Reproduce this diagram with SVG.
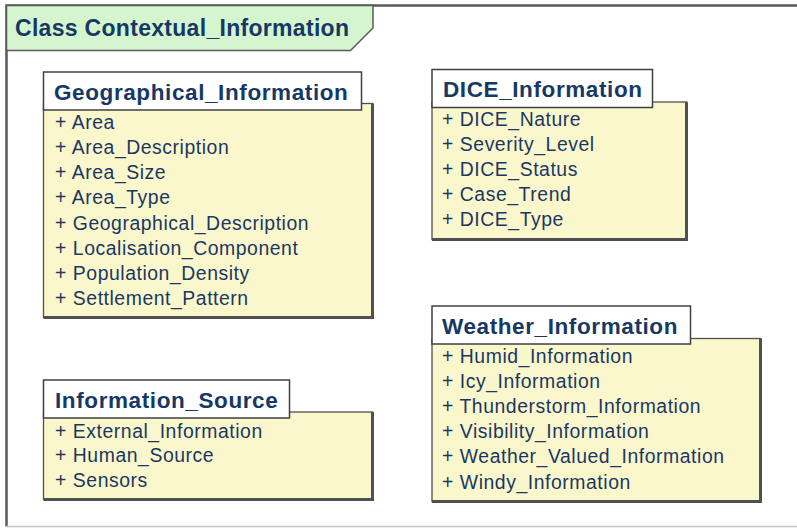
<svg xmlns="http://www.w3.org/2000/svg" width="797" height="528" viewBox="0 0 797 528">
  <style>
    .frame { fill: none; stroke: #5a5a5a; stroke-width: 2.5; }
    .frame-bottom { fill: none; stroke: #c4c4c4; stroke-width: 1.5; }
    .tab { fill: #d5f5cf; stroke: #5a5a5a; stroke-width: 1.5; }
    .title { font-family: "Liberation Sans", Arial, sans-serif; font-weight: bold; font-size: 23px; fill: #163865; letter-spacing: 0.3px; }
    .body { fill: #fbf7cc; stroke: #505050; stroke-width: 1.3; }
    .shadow { fill: none; stroke: #505050; stroke-width: 3; }
    .head { fill: #ffffff; stroke: #404040; stroke-width: 1.5; }
    .cname { font-family: "Liberation Sans", Arial, sans-serif; font-weight: bold; font-size: 22.5px; fill: #163865; letter-spacing: 0.6px; }
    .attr { font-family: "Liberation Sans", Arial, sans-serif; font-size: 19.4px; fill: #1a3762; letter-spacing: 0.55px; }
  </style>

  <!-- package frame -->
  <g id="frame">
    <path class="frame" d="M797 5.5 H6.5 V526.5"/>
    <path class="frame-bottom" d="M6 526.5 H797"/>
    <path class="tab" d="M6.5 5.5 H373 V28 L350.5 50.5 H6.5 Z"/>
    <text class="title" x="15" y="36">Class Contextual_Information</text>
  </g>

  <!-- class nodes -->
  <g id="geographical-information">
    <rect class="body" x="43.5" y="103.5" width="329" height="214"/>
    <path class="shadow" d="M372.5 103.5 V317.5 H43.5"/>
    <rect class="head" x="43.5" y="72" width="318" height="38"/>
    <text class="cname" x="54" y="100">Geographical_Information</text>
    <text class="attr" x="55" y="129">+ Area</text>
    <text class="attr" x="55" y="154">+ Area_Description</text>
    <text class="attr" x="55" y="179.3">+ Area_Size</text>
    <text class="attr" x="55" y="204.4">+ Area_Type</text>
    <text class="attr" x="55" y="229.6">+ Geographical_Description</text>
    <text class="attr" x="55" y="254.7">+ Localisation_Component</text>
    <text class="attr" x="55" y="279.9">+ Population_Density</text>
    <text class="attr" x="55" y="305">+ Settlement_Pattern</text>
  </g>

  <g id="dice-information">
    <rect class="body" x="432" y="102" width="254.5" height="137.5"/>
    <path class="shadow" d="M686.5 102 V239.5 H432"/>
    <rect class="head" x="432" y="69.5" width="220.5" height="38"/>
    <text class="cname" x="443" y="97">DICE_Information</text>
    <text class="attr" x="442" y="126">+ DICE_Nature</text>
    <text class="attr" x="442" y="151">+ Severity_Level</text>
    <text class="attr" x="442" y="176">+ DICE_Status</text>
    <text class="attr" x="442" y="201">+ Case_Trend</text>
    <text class="attr" x="442" y="226">+ DICE_Type</text>
  </g>

  <g id="information-source">
    <rect class="body" x="43.5" y="412" width="329" height="87.5"/>
    <path class="shadow" d="M372.5 412 V499.5 H43.5"/>
    <rect class="head" x="43.5" y="380" width="246" height="38"/>
    <text class="cname" x="55" y="407.5">Information_Source</text>
    <text class="attr" x="55" y="437.5">+ External_Information</text>
    <text class="attr" x="55" y="462">+ Human_Source</text>
    <text class="attr" x="55" y="486.5">+ Sensors</text>
  </g>

  <g id="weather-information">
    <rect class="body" x="432" y="338.5" width="328.5" height="163"/>
    <path class="shadow" d="M760.5 338.5 V501.5 H432"/>
    <rect class="head" x="432" y="306" width="258.5" height="38"/>
    <text class="cname" x="442" y="333.5">Weather_Information</text>
    <text class="attr" x="442" y="363">+ Humid_Information</text>
    <text class="attr" x="442" y="388">+ Icy_Information</text>
    <text class="attr" x="442" y="413">+ Thunderstorm_Information</text>
    <text class="attr" x="442" y="438">+ Visibility_Information</text>
    <text class="attr" x="442" y="463">+ Weather_Valued_Information</text>
    <text class="attr" x="442" y="488.5">+ Windy_Information</text>
  </g>

  <!-- no associations are drawn between these classes -->
  <g id="connectors"/>
</svg>
